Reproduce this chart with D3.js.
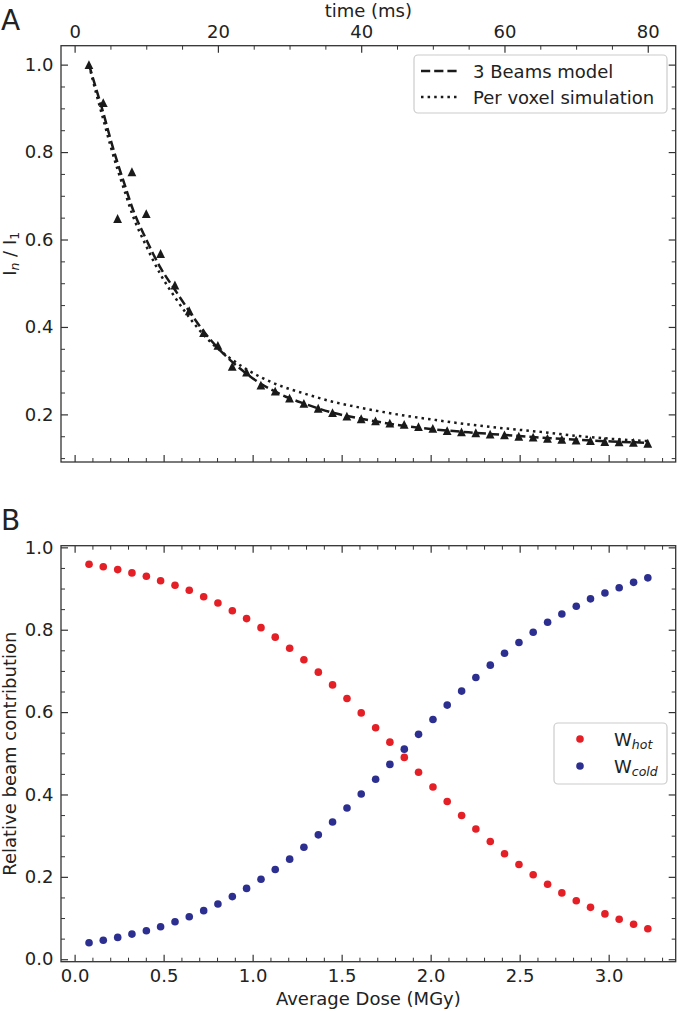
<!DOCTYPE html>
<html><head><meta charset="utf-8">
<script src="https://cdn.jsdelivr.net/npm/d3@7/dist/d3.min.js"></script>
<style>
html,body{margin:0;padding:0;background:#fff;}
svg text{font-family:"DejaVu Sans",sans-serif;fill:#222;}
</style></head>
<body>
<svg id="chart" width="677" height="1011"></svg>
<script>
// ---------- DATA ----------
const timeMs = [2,4,6,8,10,12,14,16,18,20,22,24,26,28,30,32,34,36,38,40,42,44,46,48,50,52,54,56,58,60,62,64,66,68,70,72,74,76,78,80];
const measuredRatio = [1.0,0.913,0.648,0.755,0.659,0.568,0.496,0.437,0.387,0.358,0.31,0.297,0.267,0.253,0.237,0.225,0.214,0.204,0.196,0.19,0.185,0.18,0.177,0.172,0.168,0.163,0.16,0.158,0.155,0.153,0.15,0.148,0.145,0.143,0.141,0.14,0.138,0.137,0.136,0.134];
const modelTime = [2,3,4,5,6,7,8,10,12,14,16,18,20,22,24,26,28,30,32,36,40,45,50,55,60,65,70,75,80];
const beamsModel = [1.0,0.945,0.89,0.83,0.775,0.725,0.675,0.6,0.535,0.485,0.436,0.39,0.352,0.32,0.293,0.27,0.252,0.237,0.225,0.204,0.19,0.176,0.166,0.159,0.153,0.147,0.142,0.138,0.135];
const voxelSim = [1.0,0.935,0.875,0.815,0.76,0.71,0.66,0.585,0.52,0.468,0.422,0.382,0.35,0.325,0.303,0.285,0.27,0.258,0.248,0.229,0.215,0.2,0.188,0.177,0.168,0.16,0.151,0.144,0.139];

const doseMGy = [0.081,0.161,0.242,0.322,0.403,0.483,0.564,0.644,0.725,0.805,0.886,0.966,1.047,1.127,1.208,1.288,1.369,1.449,1.530,1.610,1.691,1.771,1.852,1.932,2.013,2.093,2.174,2.254,2.335,2.415,2.496,2.576,2.657,2.737,2.818,2.898,2.979,3.059,3.140,3.220];
const wHot = [0.959,0.953,0.946,0.938,0.930,0.919,0.908,0.896,0.880,0.865,0.846,0.827,0.805,0.782,0.755,0.727,0.697,0.666,0.633,0.598,0.562,0.527,0.490,0.454,0.418,0.383,0.349,0.316,0.286,0.256,0.230,0.205,0.182,0.161,0.142,0.126,0.110,0.097,0.085,0.074];
const wCold = [0.040,0.046,0.053,0.061,0.069,0.079,0.091,0.103,0.118,0.134,0.152,0.172,0.194,0.218,0.243,0.272,0.302,0.333,0.367,0.401,0.437,0.473,0.510,0.546,0.582,0.617,0.651,0.684,0.714,0.743,0.769,0.794,0.818,0.838,0.857,0.875,0.889,0.902,0.915,0.926];

const timeTicks = [0,20,40,60,80];
const timeMinor = [5,10,15,25,30,35,45,50,55,65,70,75];
const doseTicks = [0.0,0.5,1.0,1.5,2.0,2.5,3.0];
const doseMinor = [0.1,0.2,0.3,0.4,0.6,0.7,0.8,0.9,1.1,1.2,1.3,1.4,1.6,1.7,1.8,1.9,2.1,2.2,2.3,2.4,2.6,2.7,2.8,2.9,3.1,3.2,3.3];
const ratioTicks = [0.2,0.4,0.6,0.8,1.0];
const ratioMinor = [0.1,0.15,0.25,0.3,0.35,0.45,0.5,0.55,0.65,0.7,0.75,0.85,0.9,0.95];
const contribTicks = [0.0,0.2,0.4,0.6,0.8,1.0];
const contribMinor = [0.05,0.1,0.15,0.25,0.3,0.35,0.45,0.5,0.55,0.65,0.7,0.75,0.85,0.9,0.95];

const RED = "#e41f26", BLUE = "#2c2f8f", INK = "#1a1a1a";
// ---------- LAYOUT ----------
const svg = d3.select("#chart");
const L = 61, R = 675.7;
const A = {top:45.7, bottom:462};
const B = {top:545.7, bottom:961.7};

const xTime = d3.scaleLinear().domain([-1.9, 83.9]).range([L, R]);
const xDose = d3.scaleLinear().domain([-0.0765, 3.3765]).range([L, R]);
const yA = d3.scaleLinear().domain([0.0911, 1.0433]).range([A.bottom, A.top]);
const yB = d3.scaleLinear().domain([-0.006, 1.004]).range([B.bottom, B.top]);

const fmt1 = d3.format(".1f");

function axis(gen, scale, major, minor, tx, ty, labels, fmt){
  const g = svg.append("g").attr("transform",`translate(${tx},${ty})`);
  g.call(gen(scale).tickValues(major).tickSize(-7).tickPadding(7.5)
        .tickFormat(labels ? fmt : ""));
  g.select(".domain").remove();
  g.selectAll(".tick line").attr("stroke","#333").attr("stroke-width",1.2);
  g.selectAll("text").attr("font-size","18px").attr("fill","#222").attr("font-family","DejaVu Sans");
  const m = svg.append("g").attr("transform",`translate(${tx},${ty})`);
  m.call(gen(scale).tickValues(minor).tickSize(-4).tickFormat(""));
  m.select(".domain").remove();
  m.selectAll(".tick line").attr("stroke","#333").attr("stroke-width",1);
  return g;
}

// ---------- PANEL A ----------
axis(d3.axisTop, xTime, timeTicks, timeMinor, 0, A.top, true, d3.format("d"));
axis(d3.axisBottom, xDose, doseTicks, doseMinor, 0, A.bottom, false);
axis(d3.axisLeft, yA, ratioTicks, ratioMinor, L, 0, true, fmt1);
axis(d3.axisRight, yA, ratioTicks, ratioMinor, R, 0, false);

const clipA = svg.append("clipPath").attr("id","clipA").append("rect")
  .attr("x",L).attr("y",A.top).attr("width",R-L).attr("height",A.bottom-A.top);

const modelPts = modelTime.map((t,i)=>[t, beamsModel[i]]);
const voxelPts = modelTime.map((t,i)=>[t, voxelSim[i]]);
const line = d3.line().x(d=>xTime(d[0])).y(d=>yA(d[1])).curve(d3.curveMonotoneX);

const triPath = s => `M0,${-s}L${s},${s}L${-s},${s}Z`;
svg.append("g").selectAll("path").data(timeMs).join("path")
  .attr("transform",(t,i)=>`translate(${xTime(t)},${yA(measuredRatio[i])})`)
  .attr("d", triPath(4.4)).attr("fill",INK);

svg.append("path").datum(voxelPts).attr("d",line).attr("fill","none")
  .attr("stroke",INK).attr("stroke-width",2.5).attr("stroke-dasharray","2.5,4.1")
  .attr("clip-path","url(#clipA)");
svg.append("path").datum(modelPts).attr("d",line).attr("fill","none")
  .attr("stroke",INK).attr("stroke-width",2.5).attr("stroke-dasharray","9.2,4")
  .attr("clip-path","url(#clipA)");

svg.append("rect").attr("x",L).attr("y",A.top).attr("width",R-L).attr("height",A.bottom-A.top)
  .attr("fill","none").attr("stroke","#333").attr("stroke-width",1.3);

// legend A
const lgA = svg.append("g");
lgA.append("rect").attr("x",414).attr("y",55).attr("width",253).attr("height",58).attr("rx",4)
  .attr("fill","#fff").attr("fill-opacity",0.8).attr("stroke","#ccc").attr("stroke-width",1.2);
const legA = [{name:"3 Beams model", dash:"9.2,4"},{name:"Per voxel simulation", dash:"2.5,4.1"}];
legA.forEach((d,i)=>{
  const cy = 71 + i*26;
  lgA.append("line").attr("x1",421).attr("x2",458).attr("y1",cy).attr("y2",cy)
    .attr("stroke",INK).attr("stroke-width",2.5).attr("stroke-dasharray",d.dash);
  lgA.append("text").attr("x",473).attr("y",cy+6.5).attr("font-size","18px").text(d.name);
});

// axis titles A
svg.append("text").attr("x",(L+R)/2).attr("y",17).attr("text-anchor","middle")
  .attr("font-size","18px").text("time (ms)");
const ylabA = svg.append("text").attr("transform",`translate(16,${(A.top+A.bottom)/2}) rotate(-90)`)
  .attr("text-anchor","middle").attr("font-size","18px");
ylabA.append("tspan").text("I");
ylabA.append("tspan").attr("font-size","12.5px").attr("font-style","italic").attr("dy",3).text("n");
ylabA.append("tspan").attr("dy",-3).text(" / I");
ylabA.append("tspan").attr("font-size","12.5px").attr("dy",3).text("1");

svg.append("text").attr("x",1).attr("y",30).attr("font-size","28px").text("A");

// ---------- PANEL B ----------
axis(d3.axisBottom, xDose, doseTicks, doseMinor, 0, B.bottom, true, fmt1);
axis(d3.axisTop, xDose, doseTicks, doseMinor, 0, B.top, false);
axis(d3.axisLeft, yB, contribTicks, contribMinor, L, 0, true, fmt1);
axis(d3.axisRight, yB, contribTicks, contribMinor, R, 0, false);

svg.append("g").selectAll("circle").data(doseMGy).join("circle")
  .attr("cx",d=>xDose(d)).attr("cy",(d,i)=>yB(wHot[i])).attr("r",3.8).attr("fill",RED);
svg.append("g").selectAll("circle").data(doseMGy).join("circle")
  .attr("cx",d=>xDose(d)).attr("cy",(d,i)=>yB(wCold[i])).attr("r",3.8).attr("fill",BLUE);

svg.append("rect").attr("x",L).attr("y",B.top).attr("width",R-L).attr("height",B.bottom-B.top)
  .attr("fill","none").attr("stroke","#333").attr("stroke-width",1.3);

// legend B
const lgB = svg.append("g");
lgB.append("rect").attr("x",554).attr("y",723).attr("width",113).attr("height",61).attr("rx",4)
  .attr("fill","#fff").attr("fill-opacity",0.8).attr("stroke","#ccc").attr("stroke-width",1.2);
const legB = [{sub:"hot", color:RED},{sub:"cold", color:BLUE}];
legB.forEach((d,i)=>{
  const cy = 739 + i*27;
  lgB.append("circle").attr("cx",580).attr("cy",cy).attr("r",3.8).attr("fill",d.color);
  const t = lgB.append("text").attr("x",614).attr("y",cy+6.5).attr("font-size","18px");
  t.append("tspan").text("W");
  t.append("tspan").attr("font-size","12.5px").attr("font-style","italic").attr("dy",3).text(d.sub);
});

svg.append("text").attr("x",(L+R)/2).attr("y",1005).attr("text-anchor","middle")
  .attr("font-size","18px").text("Average Dose (MGy)");
svg.append("text").attr("transform",`translate(16,${(B.top+B.bottom)/2}) rotate(-90)`)
  .attr("text-anchor","middle").attr("font-size","18px").text("Relative beam contribution");

svg.append("text").attr("x",1).attr("y",530).attr("font-size","28px").text("B");
</script>
</body></html>
